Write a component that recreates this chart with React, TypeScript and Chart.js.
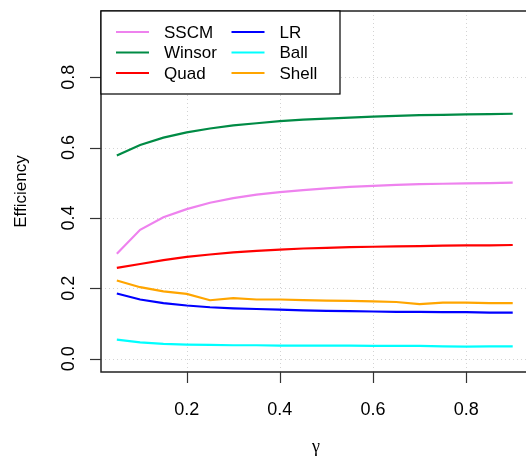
import React, { useEffect, useRef } from "react";
import { Chart, registerables } from "chart.js";

Chart.register(...registerables);

// gamma grid on the horizontal axis
const gamma = [0.05, 0.1, 0.15, 0.2, 0.25, 0.3, 0.35, 0.4, 0.45, 0.5, 0.55, 0.6, 0.65, 0.7, 0.75, 0.8, 0.85, 0.9];

// efficiency of each estimator
const sscm = [0.298, 0.366, 0.402, 0.425, 0.443, 0.456, 0.466, 0.473, 0.479, 0.484, 0.488, 0.491, 0.494, 0.496, 0.497, 0.498, 0.499, 0.5];
const winsor = [0.577, 0.607, 0.628, 0.643, 0.654, 0.663, 0.669, 0.675, 0.679, 0.682, 0.685, 0.688, 0.69, 0.692, 0.693, 0.694, 0.695, 0.696];
const quad = [0.258, 0.269, 0.28, 0.289, 0.296, 0.302, 0.306, 0.31, 0.313, 0.315, 0.317, 0.318, 0.319, 0.32, 0.321, 0.322, 0.322, 0.323];
const lr = [0.185, 0.168, 0.158, 0.151, 0.146, 0.143, 0.141, 0.139, 0.137, 0.136, 0.135, 0.134, 0.133, 0.133, 0.132, 0.132, 0.131, 0.131];
const ball = [0.054, 0.046, 0.042, 0.04, 0.039, 0.038, 0.038, 0.037, 0.037, 0.037, 0.037, 0.036, 0.036, 0.036, 0.035, 0.034, 0.035, 0.035];
const shell = [0.222, 0.203, 0.191, 0.184, 0.166, 0.172, 0.168, 0.168, 0.166, 0.165, 0.164, 0.163, 0.161, 0.155, 0.159, 0.159, 0.158, 0.158];

const seriesNames = ["SSCM", "Winsor", "Quad", "LR", "Ball", "Shell"];
const seriesValues = [sscm, winsor, quad, lr, ball, shell];
const seriesColors = ["#EE82EE", "#008B45", "#FF0000", "#0000FF", "#00FFFF", "#FFA500"];

const xTicks = [0.2, 0.4, 0.6, 0.8];
const xTickLabels = ["0.2", "0.4", "0.6", "0.8"];
const yTicks = [0, 0.2, 0.4, 0.6, 0.8];
const yTickLabels = ["0.0", "0.2", "0.4", "0.6", "0.8"];

const xTitle = "γ";
const yTitle = "Efficiency";

const FONT = '17px "Liberation Sans", Arial, Helvetica, sans-serif';
const TICK_FONT = '18px "Liberation Sans", Arial, Helvetica, sans-serif';
const GREEK_FONT = '18px "Liberation Serif", "DejaVu Serif", serif';

const basePlot = {
  id: "basePlot",
  beforeDatasetsDraw(chart: any) {
    const { ctx, chartArea: a, scales } = chart;
    ctx.save();
    ctx.strokeStyle = "#d3d3d3";
    ctx.lineWidth = 1;
    ctx.setLineDash([1, 3]);
    for (const v of xTicks) {
      const px = Math.round(scales.x.getPixelForValue(v)) + 0.5;
      ctx.beginPath();
      ctx.moveTo(px, a.top);
      ctx.lineTo(px, a.bottom);
      ctx.stroke();
    }
    for (const v of yTicks) {
      const py = Math.round(scales.y.getPixelForValue(v)) + 0.5;
      ctx.beginPath();
      ctx.moveTo(a.left, py);
      ctx.lineTo(a.right, py);
      ctx.stroke();
    }
    ctx.restore();
  },
  afterDatasetsDraw(chart: any) {
    const { ctx, chartArea: a, scales } = chart;
    ctx.save();
    ctx.setLineDash([]);

    // plot frame: left, top and bottom edges; the right edge falls just past the canvas
    ctx.strokeStyle = "#222";
    ctx.lineWidth = 1.5;
    ctx.beginPath();
    ctx.moveTo(a.right, a.top);
    ctx.lineTo(a.left, a.top);
    ctx.lineTo(a.left, a.bottom);
    ctx.lineTo(a.right, a.bottom);
    ctx.stroke();

    // tick marks
    ctx.lineWidth = 1.2;
    ctx.strokeStyle = "#333";
    for (const v of xTicks) {
      const px = Math.round(scales.x.getPixelForValue(v)) + 0.5;
      ctx.beginPath();
      ctx.moveTo(px, a.bottom);
      ctx.lineTo(px, a.bottom + 11);
      ctx.stroke();
    }
    for (const v of yTicks) {
      const py = Math.round(scales.y.getPixelForValue(v)) + 0.5;
      ctx.beginPath();
      ctx.moveTo(a.left, py);
      ctx.lineTo(a.left - 11, py);
      ctx.stroke();
    }

    // tick labels
    ctx.fillStyle = "#000";
    ctx.font = TICK_FONT;
    ctx.textAlign = "center";
    ctx.textBaseline = "alphabetic";
    xTicks.forEach((v, i) => {
      ctx.fillText(xTickLabels[i], scales.x.getPixelForValue(v), 415);
    });
    yTicks.forEach((v, i) => {
      ctx.save();
      ctx.translate(74, scales.y.getPixelForValue(v));
      ctx.rotate(-Math.PI / 2);
      ctx.fillText(yTickLabels[i], 0, 0);
      ctx.restore();
    });

    // axis titles
    ctx.save();
    ctx.font = GREEK_FONT;
    ctx.fillText(xTitle, 316, 452);
    ctx.restore();
    ctx.save();
    ctx.font = FONT;
    ctx.translate(25.5, (a.top + a.bottom) / 2);
    ctx.rotate(-Math.PI / 2);
    ctx.fillText(yTitle, 0, 0);
    ctx.restore();

    // legend box
    const lx = 101, ly = 11, lw = 239, lh = 83;
    ctx.fillStyle = "#fff";
    ctx.fillRect(lx, ly, lw, lh);
    ctx.strokeStyle = "#000";
    ctx.lineWidth = 1.2;
    ctx.strokeRect(lx, ly, lw, lh);
    const colX = [116, 231.5];
    const rowY = [32, 52.5, 73];
    ctx.font = FONT;
    ctx.textAlign = "left";
    ctx.textBaseline = "middle";
    chart.data.datasets.forEach((ds: any, i: number) => {
      const c = Math.floor(i / 3);
      const r = i % 3;
      const x0 = colX[c];
      const y0 = rowY[r];
      ctx.strokeStyle = ds.borderColor;
      ctx.lineWidth = 2;
      ctx.beginPath();
      ctx.moveTo(x0, y0);
      ctx.lineTo(x0 + 33, y0);
      ctx.stroke();
      ctx.fillStyle = "#000";
      ctx.fillText(ds.label, x0 + 48, y0 + 1);
    });
    ctx.restore();
  },
};

export default function App() {
  const ref = useRef<HTMLCanvasElement | null>(null);

  useEffect(() => {
    if (!ref.current) return;
    const chart = new Chart(ref.current, {
      type: "line",
      data: {
        datasets: seriesNames.map((name, i) => ({
          label: name,
          data: gamma.map((g, j) => ({ x: g, y: seriesValues[i][j] })),
          borderColor: seriesColors[i],
          backgroundColor: seriesColors[i],
          borderWidth: 2.2,
          pointRadius: 0,
          tension: 0,
          fill: false,
        })),
      },
      options: {
        animation: false,
        responsive: false,
        events: [],
        layout: { padding: { left: 101, top: 11, right: 0, bottom: 88 } },
        scales: {
          x: { type: "linear", min: 0.016, max: 0.9285, display: false },
          y: { type: "linear", min: -0.038, max: 0.988, display: false },
        },
        plugins: {
          legend: { display: false },
          tooltip: { enabled: false },
        },
      },
      plugins: [basePlot],
    });
    return () => chart.destroy();
  }, []);

  return (
    <div
      style={{
        position: "absolute",
        left: 0,
        top: 0,
        width: 526,
        height: 460,
        overflow: "hidden",
        background: "#fff",
      }}
    >
      <canvas ref={ref} width={526} height={460} style={{ display: "block" }} />
    </div>
  );
}
